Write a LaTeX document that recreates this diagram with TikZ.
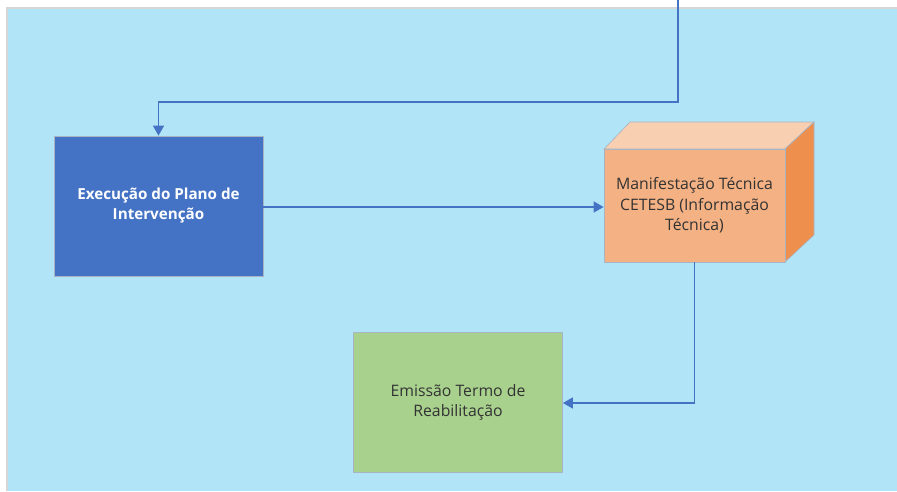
\documentclass[tikz,border=0pt]{standalone}
\usepackage{fontspec}
\setmainfont{Open Sans}
\usetikzlibrary{arrows.meta}
\definecolor{panelbg}{HTML}{B2E4F7}
\definecolor{panelrim}{HTML}{D6D6D6}
\definecolor{linkblue}{HTML}{4472C4}
\definecolor{boxblue}{HTML}{4472C4}
\definecolor{boxgreen}{HTML}{A9D18E}
\definecolor{cubefront}{HTML}{F4B183}
\definecolor{cubetop}{HTML}{F9CFB1}
\definecolor{cubeside}{HTML}{EF8F4E}
\definecolor{boxedge}{HTML}{A6B4C4}
\definecolor{darktext}{HTML}{333333}
\tikzset{
  link/.style={draw=linkblue, line width=1.6pt, -{Triangle[length=10pt,width=11pt]}},
  procbox/.style={draw=boxedge, line width=0.8pt, minimum width=209pt, minimum height=140pt, align=center, inner sep=0pt},
  lbl/.style={font=\fontsize{15.8}{20.5}\selectfont, align=center}
}
\begin{document}
\begin{tikzpicture}[x=1pt,y=-1pt]
\useasboundingbox (0,0) rectangle (897,491);
\fill[white] (0,0) rectangle (897,491);
\fill[panelrim] (6,7) rectangle (897,491);
\fill[panelbg] (8,9) rectangle (897,491);
% blue box
\node[procbox, fill=boxblue, text=white, font=\bfseries\fontsize{15.2}{20}\selectfont] (exec) at (158.5,206) {Execução do Plano de\\Intervenção};
% green box
\node[procbox, fill=boxgreen, text=darktext, font=\fontsize{15.8}{20}\selectfont] (emis) at (458,402) {Emissão Termo de\\Reabilitação};
% cube
\fill[cubetop, draw=boxedge, line width=0.6pt] (604,149) -- (630,122) -- (814,122) -- (785,149) -- cycle;
\fill[cubeside, draw=boxedge, line width=0.6pt] (785,149) -- (814,122) -- (814,235) -- (785,262) -- cycle;
\node[draw=boxedge, line width=0.8pt, fill=cubefront, minimum width=181pt, minimum height=113pt, inner sep=0pt, text=darktext, lbl] (mani) at (694.5,205.5) {Manifestação Técnica\\CETESB (Informação\\Técnica)};
% connectors
\coordinate (topin) at (678,0);
\draw[link] (topin) -- (678,102) -- (158.5,102) -- (exec.north);
\draw[link] (exec.east |- 0,207) -- (mani.west |- 0,207);
\draw[link] (mani.south) -- (694.5,403) -- (emis.east |- 0,403);
\end{tikzpicture}
\end{document}
